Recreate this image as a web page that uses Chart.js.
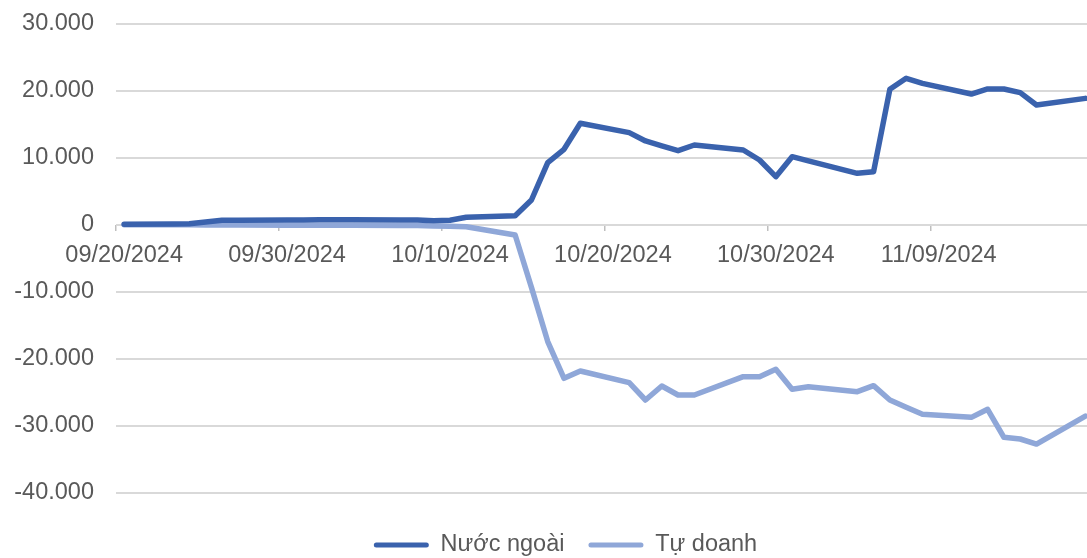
<!DOCTYPE html>
<html>
<head>
<meta charset="utf-8">
<script src="https://cdn.jsdelivr.net/npm/chart.js@4"></script>
<style>
  html, body { margin: 0; padding: 0; background: #fff; }
  #wrap { width: 1087px; height: 558px; }
</style>
</head>
<body>
<div id="wrap"><canvas id="chart"></canvas></div>
<script>
// trading days
const dates = [
    '09/20/2024', '09/23/2024', '09/24/2024', '09/25/2024', '09/26/2024', '09/27/2024',
    '09/30/2024', '10/01/2024', '10/02/2024', '10/03/2024', '10/04/2024',
    '10/07/2024', '10/08/2024', '10/09/2024', '10/10/2024', '10/11/2024',
    '10/14/2024', '10/15/2024', '10/16/2024', '10/17/2024', '10/18/2024',
    '10/21/2024', '10/22/2024', '10/23/2024', '10/24/2024', '10/25/2024',
    '10/28/2024', '10/29/2024', '10/30/2024', '10/31/2024', '11/01/2024',
    '11/04/2024', '11/05/2024', '11/06/2024', '11/07/2024', '11/08/2024',
    '11/11/2024', '11/12/2024', '11/13/2024', '11/14/2024', '11/15/2024',
    '11/18/2024'
];

const nuocNgoai = [
    100, 150, 200, 450, 700, 720,
    750, 760, 770, 770, 770,
    760, 760, 650, 700, 1150,
    1390, 3730, 9300, 11300, 15180,
    13780, 12540, 11800, 11090, 11940,
    11190, 9700, 7210, 10200, 9580,
    7710, 7960, 20250, 21890, 21140,
    19550, 20300, 20300, 19750, 17910,
    18900
];

const tuDoanh = [
    50, 30, 20, 10, 0, 0,
    -20, -30, -40, -40, -50,
    -60, -80, -150, -200, -250,
    -1490, -9300, -17400, -22880, -21790,
    -23530, -26120, -24030, -25370, -25370,
    -22640, -22640, -21540, -24520, -24130,
    -24880, -23980, -26120, -27210, -28260,
    -28710, -27510, -31690, -31940, -32690,
    -28510
];

const yTicks = [30000, 20000, 10000, 0, -10000, -20000, -30000, -40000];
const xTickDays = [0, 10, 20, 30, 40, 50];

const DAY = 86400000;
const start = Date.UTC(2024, 8, 20);

function toDay(s) {
    const p = s.split('/');
    return Math.round((Date.UTC(+p[2], +p[0] - 1, +p[1]) - start) / DAY);
}

function fmtDate(d) {
    const dt = new Date(start + d * DAY);
    const mm = String(dt.getUTCMonth() + 1).padStart(2, '0');
    const dd = String(dt.getUTCDate()).padStart(2, '0');
    return mm + '/' + dd + '/' + dt.getUTCFullYear();
}

function fmtNum(n) {
    const s = Math.abs(n).toString().replace(/\B(?=(\d{3})+(?!\d))/g, '.');
    return (n < 0 ? '-' : '') + s;
}

const days = dates.map(toDay);
const darkBlue = '#3A62AD';
const lightBlue = '#8FA7D8';
const textColor = '#595959';
const font = { family: '"Liberation Sans", Arial, sans-serif', size: 23.5 };

const shiftLegend = {
    id: 'shiftLegend',
    afterLayout(chart) {
        chart.legend.left += 22;
        chart.legend.right += 22;
    }
};

const ctx = document.getElementById('chart').getContext('2d');
const myChart = new Chart(ctx, {
    type: 'line',
    data: {
        datasets: [{
            label: 'Nước ngoài',
            data: days.map((d, i) => ({ x: d, y: nuocNgoai[i] })),
            borderColor: darkBlue,
            backgroundColor: darkBlue,
            borderWidth: 5.5,
            pointRadius: 0,
            borderJoinStyle: 'round',
            borderCapStyle: 'round'
        }, {
            label: 'Tự doanh',
            data: days.map((d, i) => ({ x: d, y: tuDoanh[i] })),
            borderColor: lightBlue,
            backgroundColor: lightBlue,
            borderWidth: 5.5,
            pointRadius: 0,
            borderJoinStyle: 'round',
            borderCapStyle: 'round'
        }]
    },
    options: {
        responsive: true,
        maintainAspectRatio: false,
        animation: false,
        layout: {
            padding: { top: 24, left: 0, right: 0, bottom: -8.75 }
        },
        scales: {
            x: {
                type: 'linear',
                position: { y: 0 },
                min: -0.5,
                max: 59.1,
                afterBuildTicks: (scale) => {
                    scale.ticks = xTickDays.map(d => ({ value: d - 0.5 }));
                },
                ticks: {
                    autoSkip: false,
                    maxRotation: 0,
                    color: textColor,
                    font: font,
                    padding: 10,
                    labelOffset: 8.15,
                    callback: (v) => fmtDate(v + 0.5)
                },
                grid: {
                    drawOnChartArea: false,
                    drawTicks: true,
                    tickLength: 6,
                    color: '#bfbfbf',
                    lineWidth: 1.5
                },
                border: { display: false }
            },
            y: {
                min: -40000,
                max: 30000,
                afterFit: (scale) => { scale.width = 116; },
                afterBuildTicks: (scale) => {
                    scale.ticks = yTicks.map(v => ({ value: v }));
                },
                ticks: {
                    color: textColor,
                    font: font,
                    padding: 0,
                    callback: (v) => fmtNum(v)
                },
                grid: {
                    color: '#d9d9d9',
                    lineWidth: 2,
                    drawTicks: true,
                    tickLength: 22,
                    tickColor: 'rgba(0,0,0,0)'
                },
                border: { display: false }
            }
        },
        plugins: {
            legend: {
                position: 'bottom',
                title: {
                    display: true,
                    text: '',
                    font: { size: 0 },
                    padding: { top: 16.25, bottom: 0 }
                },
                labels: {
                    color: textColor,
                    font: font,
                    boxWidth: 55,
                    boxHeight: 5,
                    padding: 24,
                    useBorderRadius: true,
                    borderRadius: 2.5,
                    generateLabels: (chart) => Chart.defaults.plugins.legend.labels.generateLabels(chart)
                        .map(l => Object.assign(l, { lineWidth: 0 }))
                }
            },
            tooltip: { enabled: false }
        }
    },
    plugins: [shiftLegend]
});
</script>
</body>
</html>
